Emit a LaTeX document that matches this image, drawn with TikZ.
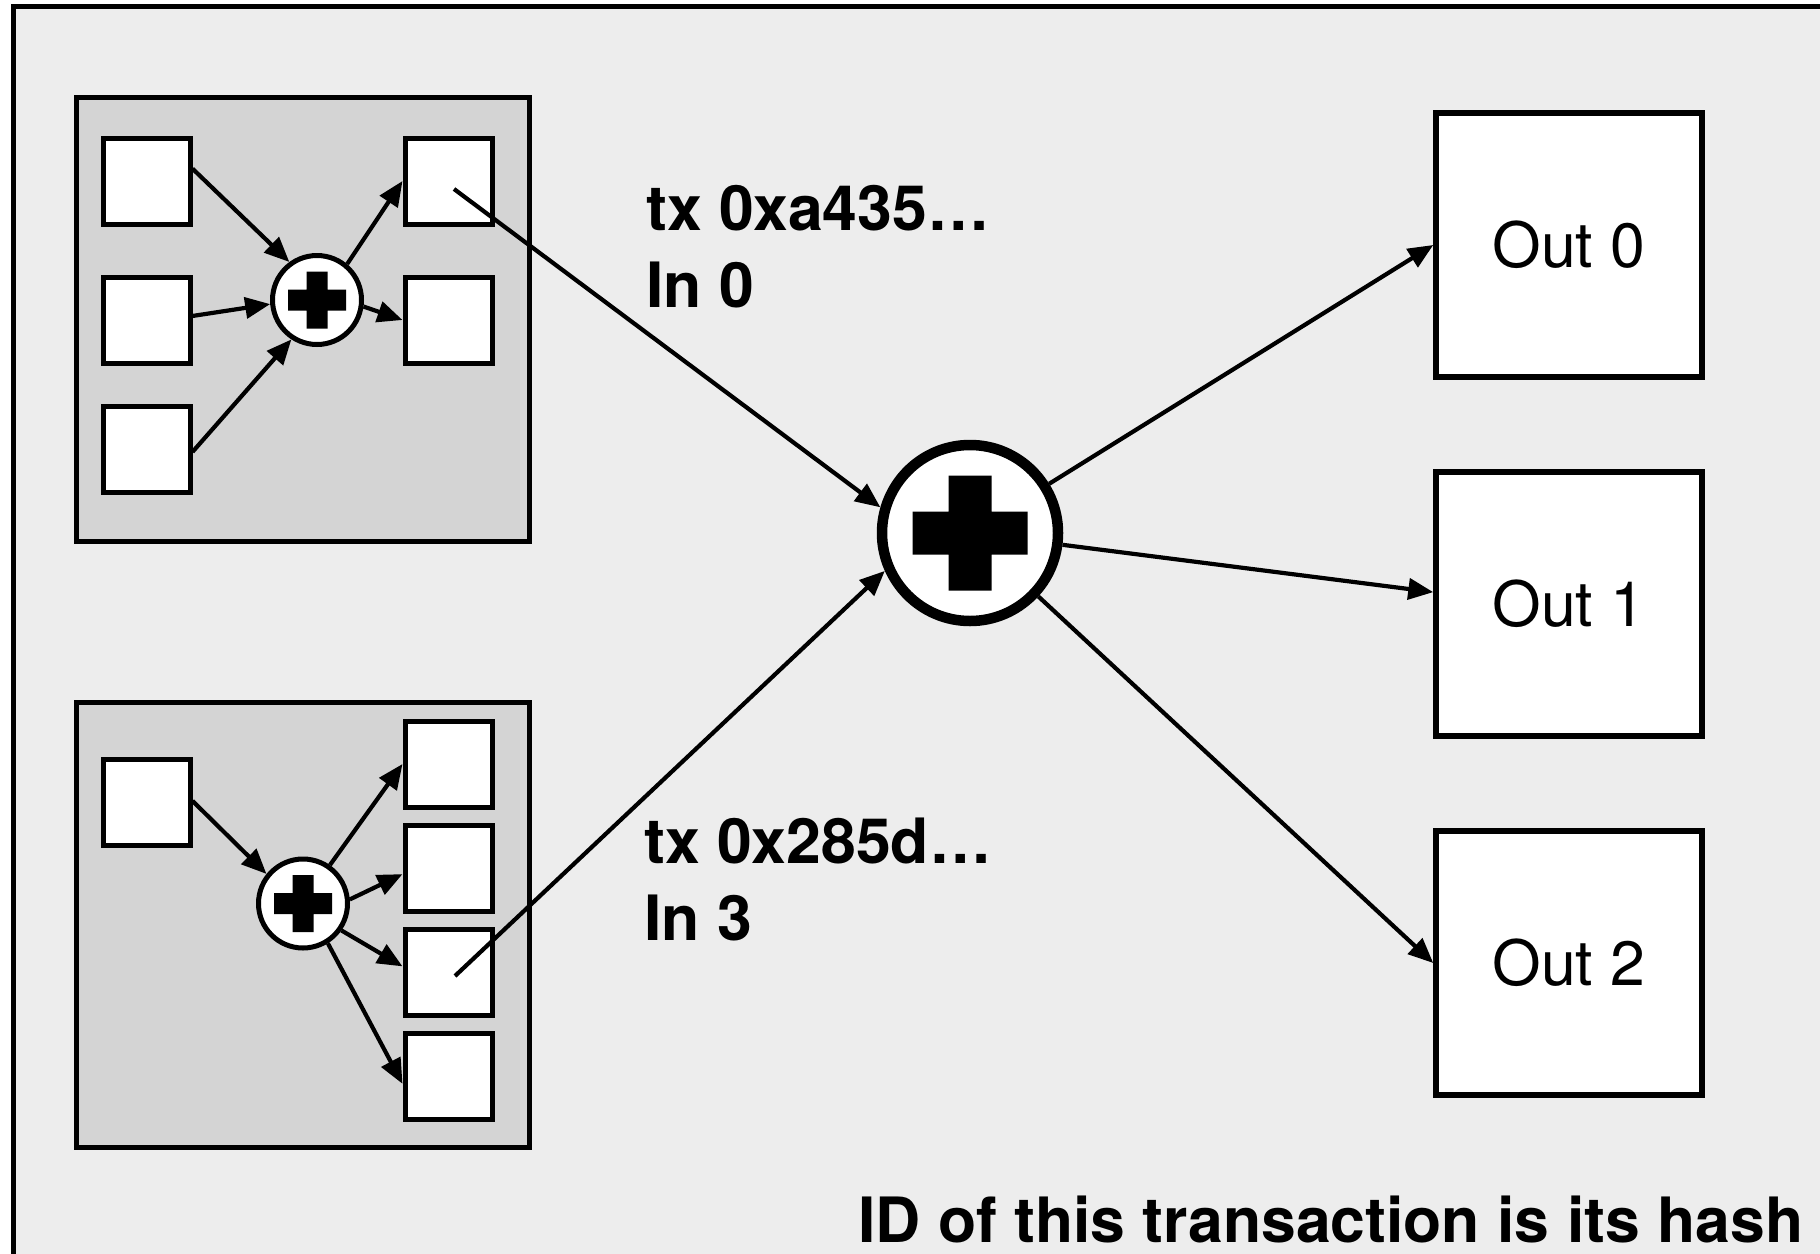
\documentclass[tikz,border=0pt]{standalone}
\usepackage{fontspec}
\setmainfont{TeX Gyre Heros}
\usetikzlibrary{arrows.meta,calc}
\definecolor{bgc}{HTML}{EDEDED}
\definecolor{panelc}{HTML}{D4D4D4}
\begin{document}
\begin{tikzpicture}[x=1pt,y=-1pt,
  sbox/.style={draw, line width=5pt, fill=white, minimum width=87pt, minimum height=86pt, inner sep=0pt},
  panel/.style={draw, line width=5pt, fill=panelc, minimum width=453pt, minimum height=444pt, inner sep=0pt},
  smallsum/.style={draw, circle, line width=5pt, fill=white, minimum size=89pt, inner sep=0pt},
  bigsum/.style={draw, circle, line width=10.5pt, fill=white, minimum size=176pt, inner sep=0pt},
  outbox/.style={draw, line width=5.5pt, fill=white, minimum width=266pt, minimum height=264pt, inner sep=0pt, font=\fontsize{62.5}{75}\selectfont},
  lbl/.style={anchor=base west, inner sep=0pt, font=\bfseries\fontsize{62.5}{75}\selectfont},
  arr/.style={line width=4.2pt, -{Triangle[length=25pt,width=21pt]}},
]
\useasboundingbox (0,0) rectangle (1820,1253);
\fill[white] (0,0) rectangle (1820,1253);
\draw[line width=5pt, fill=bgc] (13.5,6.5) rectangle (1840,1270);

% top-left panel
\node[panel] (panel1) at (303,319.5) {};
\node[sbox] (l1) at (146.5,181) {};
\node[sbox] (l2) at (146.5,320) {};
\node[sbox] (l3) at (146.5,449.5) {};
\node[sbox] (r1) at (448.5,181) {};
\node[sbox] (r2) at (448.5,320) {};
\node[smallsum] (c1) at (317,300) {};
\fill[shift={(c1.center)}] (-29,-10.5) rectangle (29,10.5) (-10.5,-28.5) rectangle (10.5,28.5);
\draw[arr] (l1.15) -- (c1.126);
\draw[arr] (l2.5) -- (c1.185);
\draw[arr] (l3.-3) -- (c1.237);
\draw[arr] (c1.50) -- (r1.west);
\draw[arr] (c1.-8) -- (r2.west);

% bottom-left panel
\node[panel, minimum height=445pt] (panel2) at (303,925) {};
\node[sbox] (lb) at (146.5,802.5) {};
\node[sbox] (rb1) at (448.5,764) {};
\node[sbox] (rb2) at (448.5,868.5) {};
\node[sbox] (rb3) at (448.5,972) {};
\node[sbox] (rb4) at (448.5,1076.5) {};
\node[smallsum] (c2) at (303,903.5) {};
\fill[shift={(c2.center)}] (-29,-10.5) rectangle (29,10.5) (-10.5,-28.5) rectangle (10.5,28.5);
\draw[arr] (lb.2) -- (c2.141);
\draw[arr] (c2.55) -- (rb1.west);
\draw[arr] (c2.5) -- (rb2.187);
\draw[arr] (c2.-35) -- (rb3.173);
\draw[arr] (c2.-58) -- (rb4.189);

% big sum
\node[bigsum] (big) at (970,533) {};
\fill[shift={(big.center)}] (-57.5,-21.5) rectangle (57.5,21.5) (-21.5,-57.5) rectangle (21.5,57.5);

% outputs
\node[outbox] (out0) at (1569,245) {Out 0};
\node[outbox] (out1) at (1569,604) {Out 1};
\node[outbox] (out2) at (1569,963) {Out 2};

\coordinate (s1) at (454,189);
\coordinate (s2) at (455,976);
\draw[arr] (s1) -- (big.164);
\draw[arr] (s2) -- (big.204);
\draw[arr] (big) -- (out0.west);
\draw[arr] (big) -- (out1.175);
\draw[arr] (big) -- (out2.west);

% labels
\node[lbl] (t0a) at (646,230) {tx 0xa435…};
\node[lbl] (t0b) at (646,307) {In 0};
\node[lbl] (t3a) at (644,863) {tx 0x285d…};
\node[lbl] (t3b) at (644,940) {In 3};
\node[lbl] (cap) at (858,1242) {ID of this transaction is its hash};
\end{tikzpicture}
\end{document}
